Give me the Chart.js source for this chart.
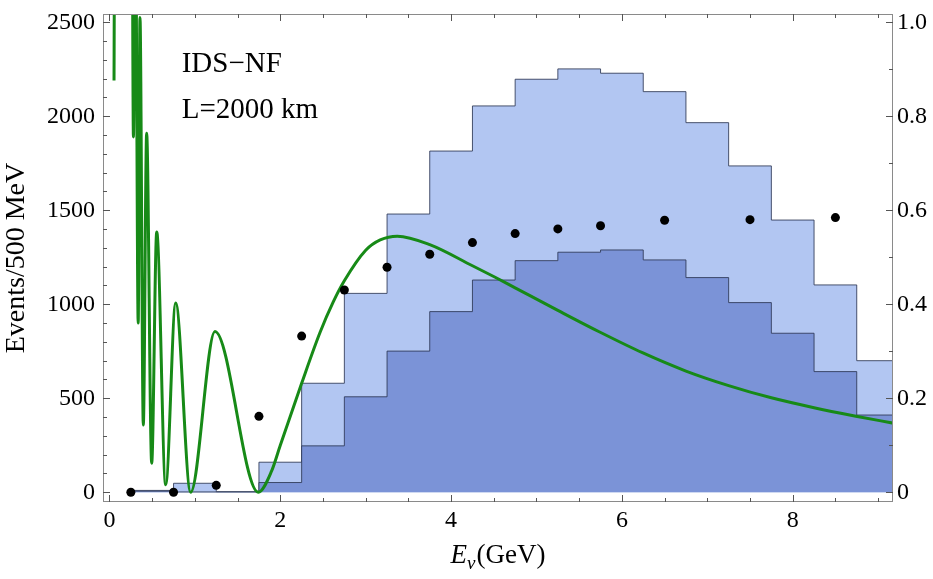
<!DOCTYPE html>
<html>
<head>
<meta charset="utf-8">
<script src="https://cdn.jsdelivr.net/npm/chart.js@4.4.1/dist/chart.umd.min.js"></script>
<style>
html, body { margin: 0; padding: 0; background: #fff; }
#wrap { width: 933px; height: 579px; }
</style>
</head>
<body>
<div id="wrap"><canvas id="chart" width="933" height="579"></canvas></div>
<script>
// histogram bin edges (GeV), 500 MeV bins
const binEdges = [0.25, 0.75, 1.25, 1.75, 2.25, 2.75, 3.25, 3.75, 4.25, 4.75,
                  5.25, 5.75, 6.25, 6.75, 7.25, 7.75, 8.25, 8.75, 9.25];
// events per bin, light (outer) histogram
const outerEvents = [10, 48, 3, 160, 580, 1058, 1480, 1815, 2055, 2197,
                     2252, 2229, 2131, 1966, 1736, 1448, 1103, 700];
// events per bin, dark (inner) histogram
const innerEvents = [6, 2, 2, 52, 247, 508, 751, 961, 1129, 1232,
                     1277, 1289, 1236, 1142, 1009, 846, 642, 411];

// black points
const dotE = [0.25, 0.75, 1.25, 1.75, 2.25, 2.75, 3.25, 3.75, 4.25, 4.75, 5.25, 5.75, 6.5, 7.5, 8.5];
const dotEvents = [0, 0, 37, 404, 831, 1076, 1197, 1266, 1328, 1376, 1401, 1418, 1447, 1450, 1461];

// green curve, read on the right axis (values above 1.02 are off the top)
const curveE = [0.053, 0.062, 0.263, 0.28, 0.303, 0.336, 0.357, 0.396, 0.435, 0.494,
                0.553, 0.658, 0.775, 0.95, 1.235, 1.742, 1.9, 2.0, 2.25, 2.465,
                2.62, 2.75, 3.0, 3.17, 3.37, 3.75, 4.25, 4.51, 4.75, 5.25,
                5.74, 6.24, 6.75, 7.25, 7.75, 8.25, 8.74, 9.18];
const curveP = [0.876, 1.3, 1.3, 0.756, 1.3, 0.36, 1.01, 0.143, 0.764, 0.062,
                0.554, 0.016, 0.403, 0.0, 0.342, 0.0, 0.046, 0.1, 0.232, 0.34,
                0.405, 0.45, 0.515, 0.537, 0.545, 0.527, 0.482, 0.458, 0.435, 0.387,
                0.341, 0.297, 0.258, 0.227, 0.201, 0.18, 0.162, 0.147];

const xTicks = [0, 2, 4, 6, 8];
const leftTicks = [0, 500, 1000, 1500, 2000, 2500];
const rightTicks = [0, 0.2, 0.4, 0.6, 0.8, 1.0];
const rightTickLabels = ['0', '0.2', '0.4', '0.6', '0.8', '1.0'];

const SERIF = "'Liberation Serif', 'DejaVu Serif', serif";

function histPoints(counts) {
    const pts = counts.map((c, i) => ({ x: binEdges[i], y: c }));
    pts.push({ x: binEdges[binEdges.length - 1], y: counts[counts.length - 1] });
    return pts;
}

function fixedBox(size, horizontal) {
    return (s) => {
        if (horizontal) s.height = size; else s.width = size;
        s.paddingTop = 0; s.paddingBottom = 0; s.paddingLeft = 0; s.paddingRight = 0;
    };
}

// frame, inward ticks and the text labels
const framePlugin = {
    id: 'frame',
    afterDraw(chart) {
        const ctx = chart.ctx;
        const a = chart.chartArea;
        const xs = chart.scales.x, yl = chart.scales.y, yr = chart.scales.y2;
        ctx.save();
        ctx.strokeStyle = '#8a8a8a';
        ctx.lineWidth = 1;
        ctx.strokeRect(Math.round(a.left) + 0.5, Math.round(a.top) + 0.5,
                       Math.round(a.right - a.left) - 1, Math.round(a.bottom - a.top) - 1);

        ctx.strokeStyle = '#555';
        const tick = (x1, y1, x2, y2) => {
            ctx.beginPath(); ctx.moveTo(x1, y1); ctx.lineTo(x2, y2); ctx.stroke();
        };
        // x ticks, bottom and top
        for (let v = 0; v <= 9.01; v += 0.5) {
            const major = xTicks.includes(v);
            const len = major ? 7 : 4;
            const px = Math.round(xs.getPixelForValue(v)) + 0.5;
            tick(px, a.bottom, px, a.bottom - len);
            tick(px, a.top, px, a.top + len);
        }
        // left ticks
        for (let v = 0; v <= 2500; v += 100) {
            const len = leftTicks.includes(v) ? 7 : 4;
            const py = Math.round(yl.getPixelForValue(v)) + 0.5;
            tick(a.left, py, a.left + len, py);
        }
        // right ticks
        for (let i = 0; i <= 10; i++) {
            const v = i / 10;
            const len = i % 2 === 0 ? 7 : 4;
            const py = Math.round(yr.getPixelForValue(v)) + 0.5;
            tick(a.right, py, a.right - len, py);
        }

        // labels inside the plot
        ctx.fillStyle = '#000';
        ctx.textBaseline = 'alphabetic';
        ctx.textAlign = 'left';
        ctx.font = '29px ' + SERIF;
        ctx.fillText('IDS\u2212NF', xs.getPixelForValue(0.845), yl.getPixelForValue(2237));
        ctx.fillText('L=2000 km', xs.getPixelForValue(0.845), yl.getPixelForValue(1989));

        // x axis title: E_nu(GeV)
        const big = '27px ' + SERIF, ital = 'italic 27px ' + SERIF, small = 'italic 19px ' + SERIF;
        ctx.font = ital; const wE = ctx.measureText('E').width;
        ctx.font = small; const wN = ctx.measureText('\u03bd').width;
        ctx.font = big; const wG = ctx.measureText('(GeV)').width;
        const total = wE + wN + 1 + wG;
        let x0 = (a.left + a.right) / 2 - total / 2;
        const base = 563;
        ctx.font = ital; ctx.fillText('E', x0, base); x0 += wE;
        ctx.font = small; ctx.fillText('\u03bd', x0, base + 6); x0 += wN + 1;
        ctx.font = big; ctx.fillText('(GeV)', x0, base);
        ctx.restore();
    }
};

const ctx = document.getElementById('chart').getContext('2d');
new Chart(ctx, {
    data: {
        datasets: [
            {
                type: 'scatter',
                label: 'points',
                data: dotE.map((e, i) => ({ x: e, y: dotEvents[i] })),
                yAxisID: 'y',
                pointRadius: 4.5,
                pointBackgroundColor: '#000',
                pointBorderWidth: 0,
                order: 0,
                clip: false
            },
            {
                type: 'line',
                label: 'probability',
                data: curveE.map((e, i) => ({ x: e, y: curveP[i] })),
                yAxisID: 'y2',
                borderColor: '#178a17',
                borderWidth: 3,
                pointRadius: 0,
                cubicInterpolationMode: 'monotone',
                fill: false,
                order: 1,
                clip: 0
            },
            {
                type: 'line',
                label: 'inner',
                data: histPoints(innerEvents),
                yAxisID: 'y',
                stepped: 'before',
                borderColor: 'rgba(45,55,85,0.85)',
                borderWidth: 1,
                backgroundColor: '#7b93d7',
                fill: 'origin',
                pointRadius: 0,
                order: 2,
                clip: 0
            },
            {
                type: 'line',
                label: 'outer',
                data: histPoints(outerEvents),
                yAxisID: 'y',
                stepped: 'before',
                borderColor: 'rgba(45,55,85,0.85)',
                borderWidth: 1,
                backgroundColor: '#b2c6f2',
                fill: 'origin',
                pointRadius: 0,
                order: 3,
                clip: 0
            }
        ]
    },
    options: {
        responsive: false,
        animation: false,
        devicePixelRatio: 1,
        layout: { padding: { top: 14, left: 0, right: 0, bottom: 0 } },
        plugins: { legend: { display: false }, tooltip: { enabled: false } },
        scales: {
            x: {
                type: 'linear',
                min: -0.0761,
                max: 9.1745,
                grid: { display: false, drawTicks: false },
                border: { display: false },
                ticks: {
                    color: '#000', font: { family: SERIF, size: 24 }, padding: 4,
                    autoSkip: false, maxRotation: 0, callback: v => String(v)
                },
                afterBuildTicks: s => { s.ticks = xTicks.map(v => ({ value: v })); },
                afterFit: fixedBox(77, true)
            },
            y: {
                type: 'linear',
                position: 'left',
                min: -51.6,
                max: 2544,
                grid: { display: false, drawTicks: false },
                border: { display: false },
                ticks: {
                    color: '#000', font: { family: SERIF, size: 24 }, padding: 8,
                    autoSkip: false, callback: v => String(v)
                },
                afterBuildTicks: s => { s.ticks = leftTicks.map(v => ({ value: v })); },
                title: {
                    display: true, text: 'Events/500 MeV', color: '#000',
                    font: { family: SERIF, size: 28 }, padding: { top: 0, bottom: 0 }
                },
                afterFit: fixedBox(103, false)
            },
            y2: {
                type: 'linear',
                position: 'right',
                min: -0.02064,
                max: 1.0176,
                grid: { display: false, drawTicks: false },
                border: { display: false },
                ticks: {
                    color: '#000', font: { family: SERIF, size: 24 }, padding: 4,
                    autoSkip: false,
                    callback: (v, i) => rightTickLabels[i]
                },
                afterBuildTicks: s => { s.ticks = rightTicks.map(v => ({ value: v })); },
                afterFit: fixedBox(40, false)
            }
        }
    },
    plugins: [framePlugin]
});
</script>
</body>
</html>
